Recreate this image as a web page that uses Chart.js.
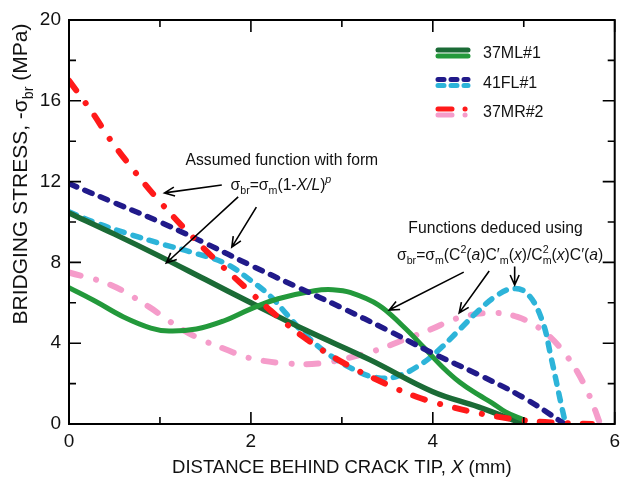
<!DOCTYPE html>
<html>
<head>
<meta charset="utf-8">
<script src="https://cdn.jsdelivr.net/npm/chart.js@4.4.0/dist/chart.umd.min.js"></script>
<style>
  html, body { margin: 0; padding: 0; background: #fff; }
</style>
</head>
<body>
<canvas id="chart" width="626" height="480"></canvas>
<script>
// values: x = distance behind crack tip (mm), y = stress (MPa)
const mlFitX = [0, 0.5, 1.0, 1.5, 2.0, 2.6, 3.3, 4.0, 4.5, 5.0];
const mlFitY = [10.45, 9.4, 8.3, 7.15, 6.0, 4.65, 3.2, 1.6, 0.85, 0.0];

const mlDedX = [0, 0.3, 0.6, 0.9, 1.1, 1.4, 1.7, 2.0, 2.3, 2.7, 2.9, 3.1, 3.4, 3.67, 3.9, 4.1, 4.3, 4.5, 4.65, 4.8, 5.0];
const mlDedY = [6.75, 6.05, 5.3, 4.75, 4.6, 4.7, 5.1, 5.7, 6.2, 6.6, 6.65, 6.5, 5.9, 4.85, 3.8, 2.85, 2.05, 1.45, 1.05, 0.6, 0.2];

const flFitX = [0, 0.5, 1.0, 1.5, 2.0, 2.5, 3.0, 3.5, 4.0, 4.5, 5.0, 5.45];
const flFitY = [11.9, 10.95, 10.0, 8.95, 7.85, 6.8, 5.75, 4.65, 3.5, 2.45, 1.3, 0.0];

const flDedX = [0, 0.3, 0.63, 0.99, 1.35, 1.72, 2.0, 2.22, 2.4, 2.58, 2.84, 3.13, 3.38, 3.6, 3.85, 4.05, 4.3, 4.5, 4.7, 4.88, 5.04, 5.2, 5.3, 5.41, 5.46];
const flDedY = [10.5, 9.95, 9.45, 8.95, 8.5, 7.95, 7.1, 6.3, 5.4, 4.5, 3.5, 2.7, 2.3, 2.35, 2.9, 3.6, 4.7, 5.6, 6.35, 6.7, 6.45, 5.15, 3.3, 1.0, 0.0];

const mrFitX = [0, 0.26, 0.45, 0.74, 1.02, 1.35, 1.64, 1.93, 2.22, 2.58, 2.95, 3.38, 3.82, 4.2, 4.6, 5.0, 5.4, 5.75];
const mrFitY = [17.0, 15.4, 14.1, 12.4, 10.9, 9.3, 8.0, 6.8, 5.6, 4.3, 3.2, 2.2, 1.35, 0.85, 0.45, 0.18, 0.05, 0.0];

const mrDedX = [0, 0.45, 0.88, 1.1, 1.4, 1.72, 2.0, 2.4, 2.76, 3.05, 3.38, 3.67, 3.96, 4.28, 4.65, 4.93, 5.2, 5.45, 5.66, 5.77, 5.84];
const mrDedY = [7.5, 6.9, 5.8, 5.1, 4.3, 3.7, 3.25, 3.0, 3.0, 3.25, 3.65, 4.15, 4.65, 5.25, 5.5, 5.3, 4.65, 3.5, 2.0, 0.85, 0.0];

const legendNames = ['37ML#1', '41FL#1', '37MR#2'];
const xTickVals = [0, 1, 2, 3, 4, 5, 6];
const yTickVals = [0, 2, 4, 6, 8, 10, 12, 14, 16, 18, 20];

const FONT = '"Liberation Sans", Arial, sans-serif';
const COL = {
    darkGreen: '#1b6b36',
    green: '#23993b',
    navy: '#211a8a',
    lightBlue: '#2db4d9',
    red: '#ff1a1a',
    pink: '#f59cca'
};
const DASH = [8, 9];
const DASH_DOT = [12, 16, 0.1, 15];

function toPoints(xs, ys) {
    return xs.map((x, i) => ({ x: x, y: ys[i] }));
}

function lineSet(label, xs, ys, color, width, dash) {
    return {
        label: label,
        data: toPoints(xs, ys),
        showLine: true,
        borderColor: color,
        borderWidth: width,
        borderDash: dash,
        borderCapStyle: 'round',
        borderJoinStyle: 'round',
        pointRadius: 0,
        tension: 0.4
    };
}

// draws text with italic / sub / sup pieces, centred on cx, baseline at by
function drawRich(ctx, parts, cx, by, size) {
    const small = size * 0.68;
    const widths = parts.map(p => {
        if (p.stack) {
            ctx.font = small + 'px ' + FONT;
            return Math.max(ctx.measureText(p.stack[0]).width, ctx.measureText(p.stack[1]).width);
        }
        ctx.font = (p.it ? 'italic ' : '') + (p.pos ? small : size) + 'px ' + FONT;
        return ctx.measureText(p.t).width;
    });
    let x = cx - widths.reduce((a, b) => a + b, 0) / 2;
    ctx.textAlign = 'left';
    ctx.textBaseline = 'alphabetic';
    parts.forEach((p, i) => {
        if (p.stack) {
            ctx.font = small + 'px ' + FONT;
            ctx.fillText(p.stack[0], x, by - size * 0.42);
            ctx.fillText(p.stack[1], x, by + size * 0.28);
        } else {
            ctx.font = (p.it ? 'italic ' : '') + (p.pos ? small : size) + 'px ' + FONT;
            let dy = 0;
            if (p.pos === 'sub') dy = size * 0.28;
            if (p.pos === 'sup') dy = -size * 0.42;
            ctx.fillText(p.t, x, by + dy);
        }
        x += widths[i];
    });
}

function arrow(ctx, x0, y0, x1, y1) {
    const ang = Math.atan2(y1 - y0, x1 - x0);
    const h = 11;
    ctx.beginPath();
    ctx.moveTo(x0, y0);
    ctx.lineTo(x1, y1);
    ctx.moveTo(x1 - h * Math.cos(ang - 0.42), y1 - h * Math.sin(ang - 0.42));
    ctx.lineTo(x1, y1);
    ctx.lineTo(x1 - h * Math.cos(ang + 0.42), y1 - h * Math.sin(ang + 0.42));
    ctx.stroke();
}

const decorations = {
    id: 'decorations',
    afterDraw(chart) {
        const ctx = chart.ctx;
        const a = chart.chartArea;
        const sx = chart.scales.x, sy = chart.scales.y;
        const px = v => sx.getPixelForValue(v);
        const py = v => sy.getPixelForValue(v);
        ctx.save();

        // frame with inward ticks on every side
        ctx.strokeStyle = '#000';
        ctx.lineWidth = 2;
        ctx.strokeRect(a.left, a.top, a.right - a.left, a.bottom - a.top);
        ctx.lineWidth = 1.6;
        ctx.beginPath();
        xTickVals.forEach(v => {
            const len = v % 2 === 0 ? 12 : 7;
            ctx.moveTo(px(v), a.bottom); ctx.lineTo(px(v), a.bottom - len);
            ctx.moveTo(px(v), a.top); ctx.lineTo(px(v), a.top + len);
        });
        yTickVals.forEach(v => {
            const len = v % 4 === 0 ? 12 : 7;
            ctx.moveTo(a.left, py(v)); ctx.lineTo(a.left + len, py(v));
            ctx.moveTo(a.right, py(v)); ctx.lineTo(a.right - len, py(v));
        });
        ctx.stroke();

        // axis titles
        ctx.fillStyle = '#111';
        drawRich(ctx, [
            { t: 'DISTANCE BEHIND CRACK TIP, ' },
            { t: 'X', it: true },
            { t: ' (mm)' }
        ], (a.left + a.right) / 2, 473, 18.5);

        ctx.save();
        ctx.translate(27, 174);
        ctx.rotate(-Math.PI / 2);
        drawRich(ctx, [
            { t: 'BRIDGING STRESS, -σ' },
            { t: 'br', pos: 'sub' },
            { t: ' (MPa)' }
        ], 0, 0, 21);
        ctx.restore();

        // annotations
        drawRich(ctx, [{ t: 'Assumed function with form' }], px(2.34), py(12.82), 15.7);
        drawRich(ctx, [
            { t: 'σ' }, { t: 'br', pos: 'sub' }, { t: '=σ' }, { t: 'm', pos: 'sub' },
            { t: '(1-' }, { t: 'X/L', it: true }, { t: ')' }, { t: 'p', pos: 'sup', it: true }
        ], px(2.33), py(11.58), 15.7);
        drawRich(ctx, [{ t: 'Functions deduced using' }], px(4.69), py(9.46), 15.7);
        drawRich(ctx, [
            { t: 'σ' }, { t: 'br', pos: 'sub' }, { t: '=σ' }, { t: 'm', pos: 'sub' },
            { t: '(C' }, { t: '2', pos: 'sup' }, { t: '(' }, { t: 'a', it: true }, { t: ')C′' },
            { t: 'm', pos: 'sub' }, { t: '(' }, { t: 'x', it: true }, { t: ')/C' },
            { stack: ['2', 'm'] }, { t: '(' }, { t: 'x', it: true }, { t: ')C′(' },
            { t: 'a', it: true }, { t: ')' }
        ], px(4.74), py(8.12), 15.7);

        ctx.strokeStyle = '#000';
        ctx.lineWidth = 1.6;
        arrow(ctx, px(1.68), py(11.83), px(1.05), py(11.44));
        arrow(ctx, px(1.86), py(11.24), px(1.07), py(7.97));
        arrow(ctx, px(2.06), py(10.74), px(1.79), py(8.76));
        arrow(ctx, px(4.34), py(7.52), px(3.52), py(5.64));
        arrow(ctx, px(4.62), py(7.57), px(4.29), py(5.5));
        arrow(ctx, px(4.9), py(7.8), px(4.9), py(6.88));

        // legend: each entry shows the fitted (top) and deduced (bottom) line
        const pairs = [
            [COL.darkGreen, COL.green, []],
            [COL.navy, COL.lightBlue, [6, 7]],
            [COL.red, COL.pink, [14, 13, 0.1, 20]]
        ];
        ctx.lineCap = 'round';
        ctx.lineWidth = 5;
        legendNames.forEach((name, i) => {
            const cy = 53 + i * 29.5;
            const [c1, c2, dash] = pairs[i];
            ctx.setLineDash(dash);
            ctx.strokeStyle = c1;
            ctx.beginPath(); ctx.moveTo(438, cy - 3); ctx.lineTo(468, cy - 3); ctx.stroke();
            ctx.strokeStyle = c2;
            ctx.beginPath(); ctx.moveTo(438, cy + 3); ctx.lineTo(468, cy + 3); ctx.stroke();
            ctx.setLineDash([]);
            ctx.fillStyle = '#111';
            ctx.font = '16px ' + FONT;
            ctx.textAlign = 'left';
            ctx.textBaseline = 'middle';
            ctx.fillText(name, 483, cy + 1);
        });
        ctx.restore();
    }
};

new Chart(document.getElementById('chart').getContext('2d'), {
    type: 'scatter',
    data: {
        datasets: [
            lineSet('37MR#2 fit', mrFitX, mrFitY, COL.red, 6, DASH_DOT),
            lineSet('41FL#1 fit', flFitX, flFitY, COL.navy, 5.5, DASH),
            lineSet('37ML#1 deduced', mlDedX, mlDedY, COL.green, 5, []),
            lineSet('37ML#1 fit', mlFitX, mlFitY, COL.darkGreen, 5.5, []),
            lineSet('41FL#1 deduced', flDedX, flDedY, COL.lightBlue, 5.5, DASH),
            lineSet('37MR#2 deduced', mrDedX, mrDedY, COL.pink, 6, DASH_DOT)
        ]
    },
    options: {
        responsive: false,
        animation: false,
        layout: { padding: { top: 20, right: 6, left: 0, bottom: 0 } },
        plugins: {
            legend: { display: false },
            tooltip: { enabled: false }
        },
        scales: {
            x: {
                type: 'linear',
                min: 0,
                max: 6,
                grid: { display: false, drawTicks: false },
                border: { display: false },
                ticks: { stepSize: 2, padding: 6, color: '#111', font: { family: FONT, size: 19 } },
                afterFit: scale => { scale.height = 56; }
            },
            y: {
                type: 'linear',
                min: 0,
                max: 20,
                grid: { display: false, drawTicks: false },
                border: { display: false },
                ticks: { stepSize: 4, padding: 8, color: '#111', font: { family: FONT, size: 19 } },
                afterFit: scale => { scale.width = 69; }
            }
        }
    },
    plugins: [decorations]
});
</script>
</body>
</html>
